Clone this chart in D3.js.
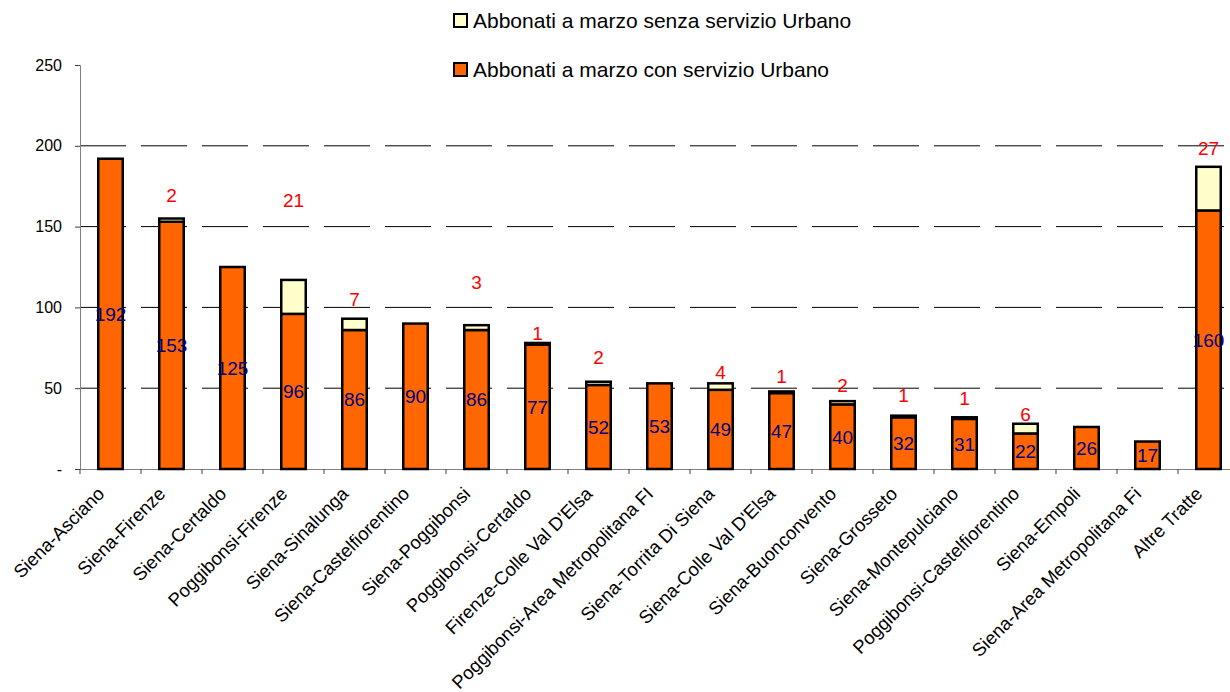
<!DOCTYPE html>
<html>
<head>
<meta charset="utf-8">
<script src="https://cdn.jsdelivr.net/npm/d3@7"></script>
<style>
  body { margin: 0; background: #fff; }
  svg { display: block; font-family: "Liberation Sans", Arial, sans-serif; }
</style>
</head>
<body>
<svg width="1230" height="692"></svg>
<script>
var categories = ["Siena-Asciano", "Siena-Firenze", "Siena-Certaldo", "Poggibonsi-Firenze",
  "Siena-Sinalunga", "Siena-Castelfiorentino", "Siena-Poggibonsi", "Poggibonsi-Certaldo",
  "Firenze-Colle Val D'Elsa", "Poggibonsi-Area Metropolitana FI", "Siena-Torrita Di Siena",
  "Siena-Colle Val D'Elsa", "Siena-Buonconvento", "Siena-Grosseto", "Siena-Montepulciano",
  "Poggibonsi-Castelfiorentino", "Siena-Empoli", "Siena-Area Metropolitana Fi", "Altre Tratte"];
var conUrbano = [192, 153, 125, 96, 86, 90, 86, 77, 52, 53, 49, 47, 40, 32, 31, 22, 26, 17, 160];
var senzaUrbano = [0, 2, 0, 21, 7, 0, 3, 1, 2, 0, 4, 1, 2, 1, 1, 6, 0, 0, 27];
var yTicks = [0, 50, 100, 150, 200, 250];
var seriesNames = ["Abbonati a marzo senza servizio Urbano", "Abbonati a marzo con servizio Urbano"];
// red labels were hand placed in the original: lift above bar top, in px
var senzaLabelLift = [0, 23, 0, 80, 20, 0, 43, 10, 25, 0, 11, 15, 16, 21, 19, 10, 0, 0, 19];

var svg = d3.select("svg"),
  plotLeft = 80, plotTop = 65, plotBottom = 469,
  step = 61,
  colorCon = "#ff6600", colorSenza = "#ffffcc";

var x = d3.scaleBand()
  .domain(categories)
  .range([plotLeft, plotLeft + step * categories.length]);

var y = d3.scaleLinear()
  .domain([0, 250])
  .range([plotBottom, plotTop]);

var data = categories.map(function(c, i) {
  return {name: c, con: conUrbano[i], senza: senzaUrbano[i], lift: senzaLabelLift[i]};
});

// dashed grid lines
svg.append("g")
  .selectAll("line")
  .data(yTicks.filter(function(d) { return d > 0 && d < 250; }))
  .enter().append("line")
    .attr("x1", plotLeft)
    .attr("x2", 1230)
    .attr("y1", function(d) { return y(d); })
    .attr("y2", function(d) { return y(d); })
    .attr("stroke", "#000")
    .attr("stroke-width", 1)
    .attr("stroke-dasharray", "46,15");

// y axis
var yAxis = svg.append("g")
  .attr("transform", "translate(" + plotLeft + ",0)")
  .call(d3.axisLeft(y).tickValues(yTicks).tickSize(5).tickPadding(13)
    .tickFormat(function(d) { return d === 0 ? "-" : d; }));
yAxis.select(".domain").attr("stroke", "#808080");
yAxis.selectAll(".tick line").attr("stroke", "#404040");
yAxis.selectAll("text").attr("font-size", 16).attr("fill", "#000").attr("font-family", null);

// x axis
var xAxis = svg.append("g")
  .attr("transform", "translate(0," + plotBottom + ")")
  .call(d3.axisBottom(x).tickSize(0).tickFormat(""));
xAxis.select(".domain").attr("stroke", "#808080");
xAxis.selectAll(".tick").remove();
xAxis.selectAll("line.sep")
  .data(categories)
  .enter().append("line")
    .attr("class", "sep")
    .attr("x1", function(d) { return x(d); })
    .attr("x2", function(d) { return x(d); })
    .attr("y1", 0)
    .attr("y2", 5)
    .attr("stroke", "#404040");

// bars
var barW = 24.5;
var bars = svg.append("g").selectAll("g")
  .data(data)
  .enter().append("g");

bars.append("rect")
  .attr("x", function(d) { return x(d.name) + x.bandwidth() / 2 - barW / 2; })
  .attr("y", function(d) { return y(d.con); })
  .attr("width", barW)
  .attr("height", function(d) { return y(0) - y(d.con); })
  .attr("fill", colorCon)
  .attr("stroke", "#000")
  .attr("stroke-width", 2.5);

bars.filter(function(d) { return d.senza > 0; })
  .append("rect")
  .attr("x", function(d) { return x(d.name) + x.bandwidth() / 2 - barW / 2; })
  .attr("y", function(d) { return y(d.con + d.senza); })
  .attr("width", barW)
  .attr("height", function(d) { return y(d.con) - y(d.con + d.senza); })
  .attr("fill", colorSenza)
  .attr("stroke", "#000")
  .attr("stroke-width", 2.5);

// value labels
bars.append("text")
  .attr("x", function(d) { return x(d.name) + x.bandwidth() / 2; })
  .attr("y", function(d) { return y(d.con / 2); })
  .attr("dy", "0.36em")
  .attr("text-anchor", "middle")
  .attr("font-size", 19)
  .attr("fill", "#000080")
  .text(function(d) { return d.con; });

bars.filter(function(d) { return d.senza > 0; })
  .append("text")
  .attr("x", function(d) { return x(d.name) + x.bandwidth() / 2; })
  .attr("y", function(d) { return y(d.con + d.senza) - d.lift; })
  .attr("dy", "0.36em")
  .attr("text-anchor", "middle")
  .attr("font-size", 19)
  .attr("fill", "#ff0000")
  .text(function(d) { return d.senza; });

// category labels
svg.append("g").selectAll("text")
  .data(categories)
  .enter().append("text")
    .attr("transform", function(d) {
      return "translate(" + (x(d) + x.bandwidth() / 2 - 5) + ",495) rotate(-45)";
    })
    .attr("text-anchor", "end")
    .attr("font-size", 18.5)
    .attr("fill", "#000")
    .text(function(d) { return d; });

// legend
var legend = svg.append("g").selectAll("g")
  .data(seriesNames)
  .enter().append("g")
    .attr("transform", function(d, i) { return "translate(454," + (14 + i * 49) + ")"; });

legend.append("rect")
  .attr("width", 13)
  .attr("height", 13)
  .attr("fill", function(d, i) { return i === 0 ? colorSenza : colorCon; })
  .attr("stroke", "#000")
  .attr("stroke-width", 2);

legend.append("text")
  .attr("x", 19)
  .attr("y", 14)
  .attr("font-size", 21)
  .attr("fill", "#000")
  .text(function(d) { return d; });
</script>
</body>
</html>
